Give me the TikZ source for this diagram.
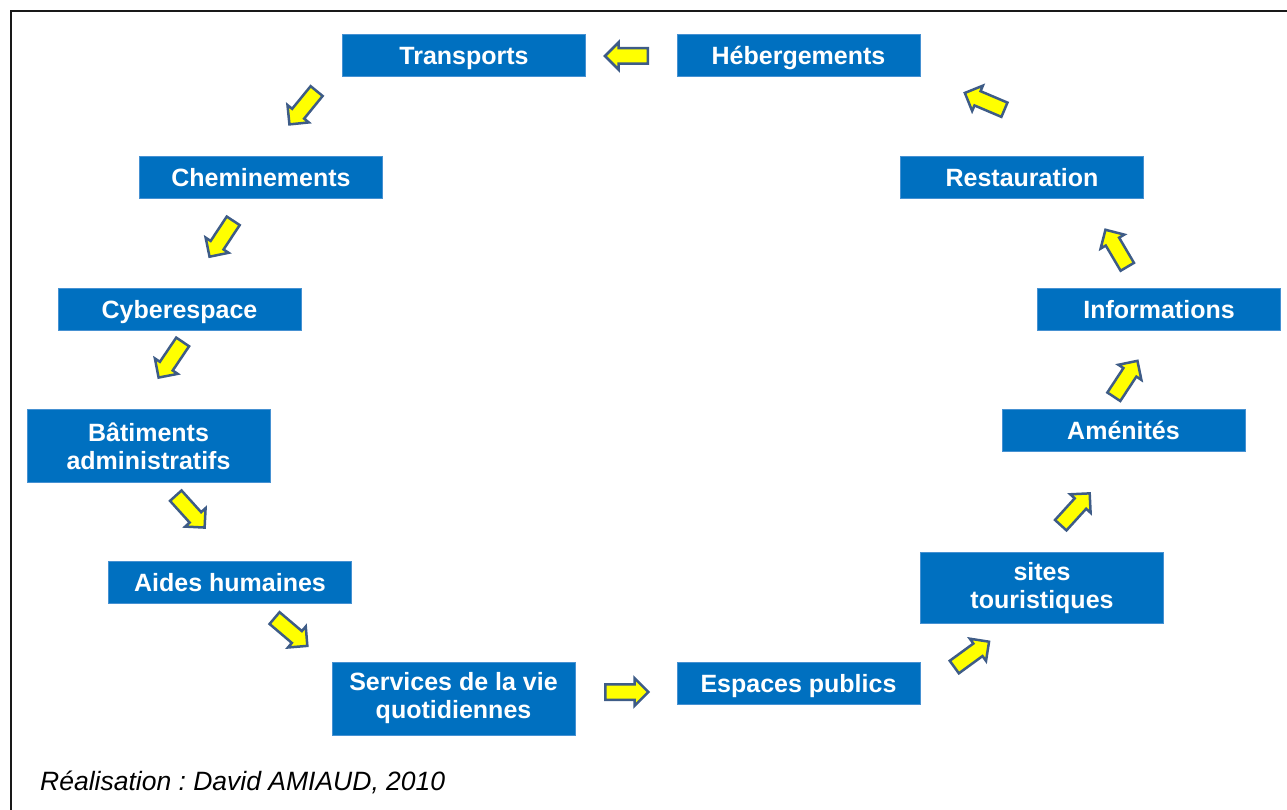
\documentclass[tikz,border=0pt]{standalone}
\usepackage{fontspec}
\setmainfont{Liberation Sans}
\usetikzlibrary{shapes.arrows}
\frenchspacing
\definecolor{boxblue}{RGB}{0,112,192}
\definecolor{boxedge}{RGB}{70,145,210}
\definecolor{arredge}{RGB}{62,92,135}
\definecolor{arrfill}{RGB}{255,255,0}
\definecolor{framecol}{RGB}{25,25,25}
\tikzset{
  box/.style={draw=boxedge, line width=1pt, fill=boxblue, text=white,
    font=\fontsize{25}{28}\selectfont\bfseries, align=center,
    minimum width=243pt, minimum height=42pt, inner sep=0pt},
  onebox/.style={box, text height=18pt, text depth=0pt},
  tallbox/.style={box, minimum height=73pt},
  blockarrow/.style={single arrow, draw=arredge, line width=2.5pt, fill=arrfill,
    minimum height=43pt, minimum width=25pt, single arrow head extend=6pt,
    inner xsep=0pt, inner ysep=6.5pt, outer sep=0pt, sloped, allow upside down},
  caption/.style={font=\fontsize{26.5}{30}\selectfont\itshape, text=black, inner sep=0pt}
}
\begin{document}
\begin{tikzpicture}[x=1pt,y=-1pt]
\useasboundingbox (0,0) rectangle (1287,810);
% frame
\draw[framecol, line width=2pt] (11,810) -- (11,11) -- (1287,11);

% boxes
\node[onebox] (trans) at (464,56) {Transports};
\node[onebox] (heb) at (798.5,56) {Hébergements};
\node[onebox] (chem) at (261,178) {Cheminements};
\node[onebox] (rest) at (1022,178) {Restauration};
\node[onebox] (cyber) at (179.5,309) {Cyberespace};
\node[onebox] (info) at (1159,309) {Informations};
\node[tallbox] (bat) at (148.5,446) {Bâtiments\\administratifs};
\node[onebox] (amen) at (1123.5,430.5) {Aménités};
\node[onebox] (aides) at (230,582) {Aides humaines};
\node[tallbox, minimum height=71pt] (sites) at (1042,588) {sites\\touristiques};
\node[tallbox] (serv) at (453.5,698.5) {Services de la vie\\quotidiennes};
\node[onebox] (esp) at (798.5,683.5) {Espaces publics};

% arrow end points
\coordinate (a1t) at (648,56);    \coordinate (a1h) at (606,56);
\coordinate (a2t) at (316.7,91);  \coordinate (a2h) at (290,123.7);
\coordinate (a3t) at (233.3,220.7); \coordinate (a3h) at (210,256);
\coordinate (a4t) at (183.3,341); \coordinate (a4h) at (158.3,378);
\coordinate (a5t) at (175,494.8); \coordinate (a5h) at (205,528);
\coordinate (a6t) at (273.3,617); \coordinate (a6h) at (308.3,646.7);
\coordinate (a7t) at (605,692);   \coordinate (a7h) at (648,692);
\coordinate (a8t) at (953,668);   \coordinate (a8h) at (990,641);
\coordinate (a9t) at (1060,526);  \coordinate (a9h) at (1090,493);
\coordinate (a10t) at (1113,398); \coordinate (a10h) at (1138,360);
\coordinate (a11t) at (1128,268); \coordinate (a11h) at (1105,229);
\coordinate (a12t) at (1005,110); \coordinate (a12h) at (965,93);

% block arrows
\foreach \i in {1,...,12}{
  \path (a\i t) -- (a\i h) node[pos=0.42, blockarrow] (arr\i) {};
}

% caption
\node[caption, anchor=base west] (cap) at (40,790) {Réalisation : David AMIAUD, 2010};
\end{tikzpicture}
\end{document}
